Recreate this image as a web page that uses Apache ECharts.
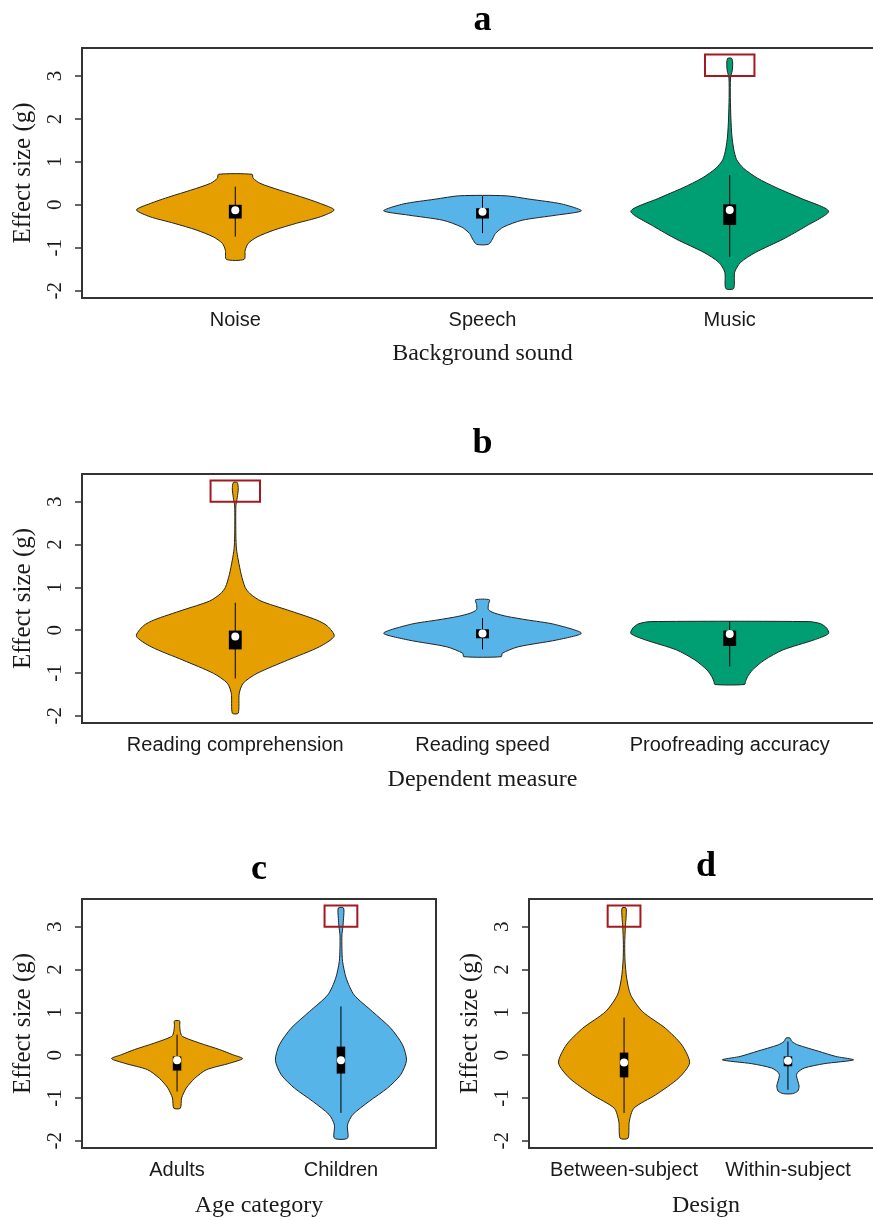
<!DOCTYPE html>
<html><head><meta charset="utf-8">
<script src="https://cdn.jsdelivr.net/npm/echarts@6/dist/echarts.min.js"></script>
<style>html,body{margin:0;padding:0;background:#fff}#c{width:873px;height:1220px}</style>
</head><body><div id="c"></div>
<script>
// ---------------- DATA ----------------
// y tick values shared by all panels
const yTicks = [-2, -1, 0, 1, 2, 3];

// Panel a: background sound
const soundCategories = ['Noise', 'Speech', 'Music'];
// violin outlines: [effect size, relative density width 0..1], top to bottom
const noiseProfile = [[0.71,0.17],[0.62,0.18],[0.5,0.25],[0.34,0.45],[0.19,0.66],[0.03,0.86],[-0.12,1.0],[-0.28,0.86],[-0.43,0.62],[-0.59,0.39],[-0.75,0.22],[-0.9,0.13],[-1.06,0.1],[-1.27,0.09]];
const speechProfile = [[0.21,0.23],[0.13,0.48],[0.02,0.8],[-0.14,1.0],[-0.24,0.75],[-0.36,0.4],[-0.52,0.21],[-0.67,0.13],[-0.8,0.1],[-0.92,0.06]];
const musicProfile = [[3.41,0.02],[3.3,0.03],[3.12,0.025],[2.95,0.008],[2.5,0.006],[2.0,0.012],[1.6,0.022],[1.3,0.04],[1.05,0.07],[0.85,0.14],[0.62,0.28],[0.4,0.47],[0.15,0.72],[-0.15,1.0],[-0.5,0.77],[-0.8,0.54],[-1.11,0.26],[-1.34,0.11],[-1.57,0.05],[-1.95,0.04]];
// box stats: [lower whisker, Q1, median, Q3, upper whisker]
const noiseBox = [-0.74, -0.32, -0.13, 0.0, 0.42];
const speechBox = [-0.66, -0.32, -0.16, -0.08, 0.2];
const musicBox = [-1.21, -0.47, -0.12, 0.01, 0.69];
// highlighted outlier region: [category index, low, high]
const soundHighlight = [2, 3.0, 3.5];

// Panel b: dependent measure
const measureCategories = ['Reading comprehension', 'Reading speed', 'Proofreading accuracy'];
const comprehensionProfile = [[3.45,0.02],[3.3,0.03],[3.1,0.02],[2.9,0.006],[2.2,0.006],[1.9,0.012],[1.64,0.03],[1.3,0.06],[1.0,0.1],[0.85,0.15],[0.68,0.26],[0.47,0.53],[0.24,0.82],[0.1,0.93],[-0.14,1.0],[-0.39,0.85],[-0.7,0.53],[-1.01,0.22],[-1.24,0.08],[-1.48,0.04],[-1.94,0.03]];
const speedProfile = [[0.71,0.07],[0.6,0.06],[0.48,0.06],[0.4,0.12],[0.32,0.25],[0.24,0.45],[0.14,0.72],[-0.07,1.0],[-0.23,0.75],[-0.39,0.36],[-0.54,0.2],[-0.62,0.19]];
const proofProfile = [[0.2,0.8],[0.15,0.92],[0.05,0.98],[-0.08,1.0],[-0.23,0.85],[-0.46,0.54],[-0.7,0.35],[-0.93,0.23],[-1.09,0.18],[-1.2,0.16],[-1.27,0.15]];
const comprehensionBox = [-1.13, -0.45, -0.15, -0.01, 0.64];
const speedBox = [-0.45, -0.19, -0.08, 0.02, 0.28];
const proofBox = [-0.85, -0.37, -0.09, -0.01, 0.2];
const measureHighlight = [0, 3.0, 3.5];

// Panel c: age category
const ageCategories = ['Adults', 'Children'];
const adultsProfile = [[0.8,0.04],[0.7,0.04],[0.55,0.05],[0.44,0.08],[0.28,0.35],[0.13,0.65],[0.01,0.85],[-0.08,1.0],[-0.19,0.8],[-0.34,0.45],[-0.54,0.27],[-0.77,0.14],[-1.0,0.07],[-1.24,0.05]];
const childrenProfile = [[3.44,0.04],[3.2,0.04],[3.0,0.03],[2.81,0.015],[2.5,0.015],[2.19,0.025],[1.8,0.08],[1.41,0.2],[1.02,0.48],[0.63,0.76],[0.24,0.94],[-0.12,1.0],[-0.46,0.91],[-0.77,0.71],[-1.08,0.43],[-1.39,0.18],[-1.63,0.1],[-1.94,0.1]];
const adultsBox = [-0.85, -0.36, -0.12, -0.03, 0.48];
const childrenBox = [-1.35, -0.43, -0.12, 0.2, 1.14];
const ageHighlight = [1, 3.0, 3.5];

// Panel d: design
const designCategories = ['Between-subject', 'Within-subject'];
const betweenProfile = [[3.44,0.03],[3.2,0.03],[3.0,0.02],[2.58,0.01],[2.2,0.015],[1.8,0.04],[1.41,0.1],[1.02,0.28],[0.63,0.63],[0.24,0.88],[-0.18,1.0],[-0.54,0.83],[-0.93,0.48],[-1.24,0.15],[-1.55,0.08],[-1.94,0.06]];
const withinProfile = [[0.4,0.03],[0.32,0.06],[0.24,0.15],[0.09,0.47],[-0.03,0.73],[-0.11,1.0],[-0.2,0.55],[-0.3,0.25],[-0.4,0.15],[-0.48,0.13],[-0.6,0.15],[-0.72,0.17],[-0.84,0.15],[-0.9,0.07]];
const betweenBox = [-1.35, -0.52, -0.17, 0.06, 0.88];
const withinBox = [-0.81, -0.26, -0.13, -0.03, 0.32];
const designHighlight = [0, 3.0, 3.5];

// ---------------- STYLE / LAYOUT ----------------
const ORANGE = '#E69F00', BLUE = '#56B4E9', GREEN = '#009E73';
const panels = [
  {title:'a', cats:soundCategories, xname:'Background sound', profiles:[noiseProfile,speechProfile,musicProfile], boxes:[noiseBox,speechBox,musicBox], colors:[ORANGE,BLUE,GREEN], hl:soundHighlight, grid:{left:82, top:48, width:801, height:250}, nameGap:44},
  {title:'b', cats:measureCategories, xname:'Dependent measure', profiles:[comprehensionProfile,speedProfile,proofProfile], boxes:[comprehensionBox,speedBox,proofBox], colors:[ORANGE,BLUE,GREEN], hl:measureHighlight, grid:{left:82, top:474, width:801, height:249}, nameGap:45},
  {title:'c', cats:ageCategories, xname:'Age category', profiles:[adultsProfile,childrenProfile], boxes:[adultsBox,childrenBox], colors:[ORANGE,BLUE], hl:ageHighlight, grid:{left:82, top:899, width:354, height:249}, nameGap:46},
  {title:'d', cats:designCategories, xname:'Design', profiles:[betweenProfile,withinProfile], boxes:[betweenBox,withinBox], colors:[ORANGE,BLUE], hl:designHighlight, grid:{left:529, top:899, width:354, height:249}, nameGap:46}
];
const titleCenters = [21, 444, 870, 867];
const HALF = 0.4, BOXW = 0.052, HLW = 0.1;
const Y_MIN = -2.17, Y_MAX = 3.65;

const chart = echarts.init(document.getElementById('c'), null, {renderer:'canvas'});
const grids = [], xAxes = [], yAxes = [], series = [], graphics = [];

panels.forEach((p, pi) => {
  const n = p.cats.length;
  grids.push(Object.assign({show:true, borderColor:'#333', borderWidth:2, backgroundColor:'transparent', containLabel:false, outerBoundsMode:'none'}, p.grid));
  const ticks = p.cats.map((c, i) => i + 1);
  xAxes.push({
    type:'value', gridIndex:pi, min:0.5 - 0.04*n, max:n + 0.5 + 0.04*n,
    axisLine:{show:false}, splitLine:{show:false},
    axisTick:{show:true, customValues:ticks, length:7, lineStyle:{color:'#333', width:1.5}},
    axisLabel:{show:true, customValues:ticks, margin:12, fontFamily:'Liberation Sans', fontSize:20, color:'#1a1a1a',
      formatter:(v) => p.cats[Math.round(v) - 1] || ''},
    name:p.xname, nameLocation:'middle', nameGap:p.nameGap,
    nameTextStyle:{fontFamily:'Liberation Serif', fontSize:24, color:'#1a1a1a'}
  });
  yAxes.push({
    type:'value', gridIndex:pi, min:Y_MIN, max:Y_MAX,
    axisLine:{show:false}, splitLine:{show:false},
    axisTick:{show:true, customValues:yTicks, length:7, lineStyle:{color:'#333', width:1.5}},
    axisLabel:{show:true, customValues:yTicks, rotate:90, margin:16, fontFamily:'Liberation Serif', fontSize:21, color:'#1a1a1a'},
    name:'Effect size (g)', nameLocation:'middle', nameGap:46, nameRotate:90,
    nameTextStyle:{fontFamily:'Liberation Serif', fontSize:25, color:'#1a1a1a'}
  });
  series.push({
    type:'custom', xAxisIndex:pi, yAxisIndex:pi, clip:false,
    data:p.cats.map((c, i) => [i + 1, 0]),
    renderItem:(params, api) => {
      const i = params.dataIndex, cx = i + 1;
      const prof = p.profiles[i], box = p.boxes[i];
      const right = prof.map(([v, f]) => api.coord([cx + f*HALF, v]));
      const left = prof.slice().reverse().map(([v, f]) => api.coord([cx - f*HALF, v]));
      const children = [];
      children.push({type:'polygon', shape:{points:right.concat(left), smooth:0.25},
        style:{fill:p.colors[i], stroke:'#222', lineWidth:1}});
      const w0 = api.coord([cx, box[0]]), w1 = api.coord([cx, box[4]]);
      children.push({type:'line', shape:{x1:w0[0], y1:w0[1], x2:w1[0], y2:w1[1]}, style:{stroke:'#000', lineWidth:1}});
      const b0 = api.coord([cx - BOXW/2, box[3]]), b1 = api.coord([cx + BOXW/2, box[1]]);
      children.push({type:'rect', shape:{x:b0[0], y:b0[1], width:b1[0]-b0[0], height:b1[1]-b0[1]}, style:{fill:'#000'}});
      const m = api.coord([cx, box[2]]);
      children.push({type:'circle', shape:{cx:m[0], cy:m[1], r:4}, style:{fill:'#fff'}});
      if (p.hl[0] === i) {
        const h0 = api.coord([cx - HLW, p.hl[2]]), h1 = api.coord([cx + HLW, p.hl[1]]);
        children.push({type:'rect', shape:{x:h0[0], y:h0[1], width:h1[0]-h0[0], height:h1[1]-h0[1]},
          style:{fill:'none', stroke:'#A3191F', lineWidth:2}});
      }
      return {type:'group', children};
    }
  });
  const g = p.grid;
  graphics.push({type:'text', x:g.left + g.width/2, y:titleCenters[pi],
    style:{text:p.title, font:'bold 36px "Liberation Serif"', fill:'#000', textAlign:'center', textVerticalAlign:'middle'}});
});

chart.setOption({
  animation:false,
  grid:grids, xAxis:xAxes, yAxis:yAxes, series:series, graphic:graphics
});
</script>
</body></html>
